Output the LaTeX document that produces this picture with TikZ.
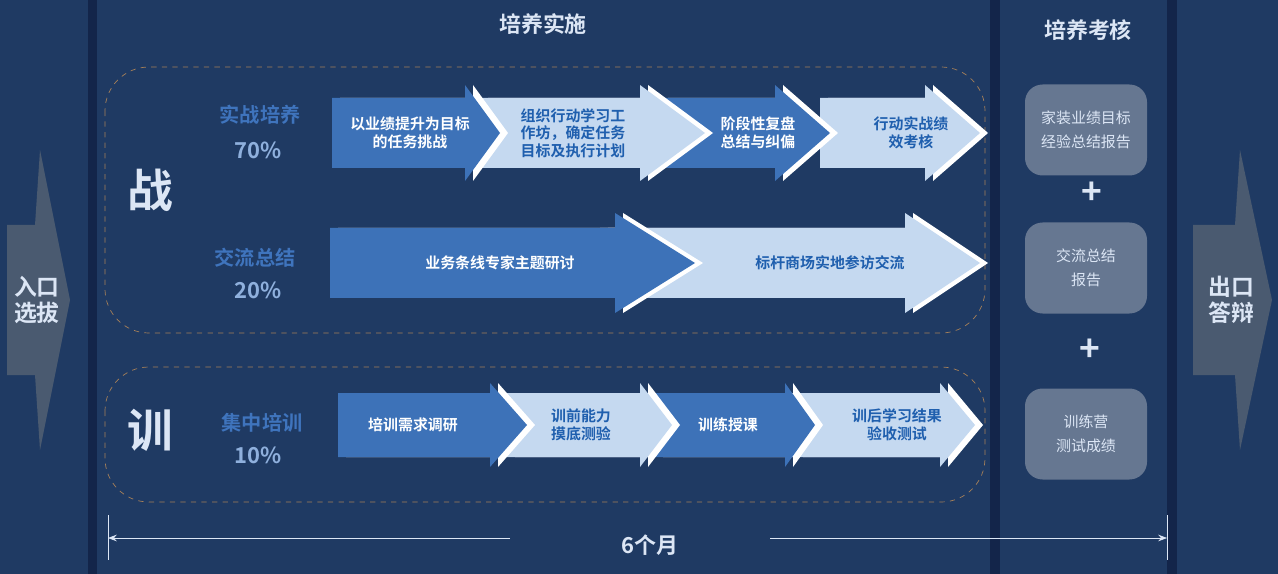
\documentclass[tikz,border=0pt]{standalone}
\usepackage{fontspec}
\setmainfont{Noto Sans CJK SC}[BoldFont={Noto Sans CJK SC Bold}]
\usetikzlibrary{arrows.meta}
\definecolor{bgblue}{HTML}{1F3A63}
\definecolor{stripe}{HTML}{13254A}
\definecolor{darkarr}{HTML}{3D72B8}
\definecolor{lightarr}{HTML}{C5D9F0}
\definecolor{textblue}{HTML}{1F5FAE}
\definecolor{labblue}{HTML}{3F74BD}
\definecolor{pctblue}{HTML}{8FB0DD}
\definecolor{greybox}{HTML}{667791}
\definecolor{gatearr}{HTML}{4A5A70}
\definecolor{pale}{HTML}{DCE6F5}
% #1 start, #2 head base, #3 tip, #4 centre y, #5 half body, #6 half head, #7 colour
\newcommand\flowarrow[7]{%
  \fill[white] ({#1+8},{#4-#5}) -- ({#2+8},{#4-#5}) -- ({#2+8},{#4-#6}) -- ({#3+8},#4)
    -- ({#2+8},{#4+#6}) -- ({#2+8},{#4+#5}) -- ({#1+8},{#4+#5}) -- cycle;
  \fill[#7] (#1,{#4-#5}) -- (#2,{#4-#5}) -- (#2,{#4-#6}) -- (#3,#4)
    -- (#2,{#4+#6}) -- (#2,{#4+#5}) -- (#1,{#4+#5}) -- cycle;
}
\tikzset{
  wtext/.style={text=white,font=\bfseries\fontsize{8.5}{10}\selectfont,align=center},
  btext/.style={text=textblue,font=\bfseries\fontsize{8.5}{10}\selectfont,align=center},
  label/.style={text=labblue,font=\bfseries\fontsize{11.5}{13}\selectfont},
  pct/.style={text=pctblue,font=\bfseries\fontsize{12.5}{14}\selectfont},
  bigchar/.style={text=pale,font=\bfseries\fontsize{26}{28}\selectfont},
  title/.style={text=pale,font=\bfseries\fontsize{12.5}{14}\selectfont},
  checkbox/.style={fill=greybox,rounded corners=10pt,minimum width=122*0.02cm,
    minimum height=91*0.02cm,text=pale,align=center,font=\fontsize{8.5}{14}\selectfont},
  plus/.style={text=pale,font=\bfseries\fontsize{20}{20}\selectfont},
  phasebox/.style={draw=gray!70!orange,dashed,rounded corners=25pt,thin}
}
\begin{document}
\begin{tikzpicture}[x=0.02cm,y=-0.02cm]
\useasboundingbox[fill=bgblue] (0,0) rectangle (1278,574);

% stripes
\fill[stripe] (88,0) rectangle (97,574);
\fill[stripe] (990,0) rectangle (1000,574);
\fill[stripe] (1167,0) rectangle (1177,574);

% entry and exit
\fill[gatearr] (7,225) -- (35,225) -- (40,150) -- (70,300) -- (40,450) -- (35,375) -- (7,375) -- cycle;
\node[title,align=center,font=\bfseries\fontsize{13}{15}\selectfont] (entry) at (37,300) {入口\\选拔};
\fill[gatearr] (1193,225) -- (1235,225) -- (1240,150) -- (1272,300) -- (1240,450) -- (1235,375) -- (1193,375) -- cycle;
\node[title,align=center,font=\bfseries\fontsize{13}{15}\selectfont] (exit) at (1231,300) {出口\\答辩};

\node[title] (implement) at (543,24) {培养实施};
\node[title] (assess) at (1088,30) {培养考核};

% phase boxes
\draw[phasebox] (105,67) rectangle (985,333);
\draw[phasebox] (105,367) rectangle (985,502);
\node[bigchar] (zhan) at (150,190) {战};
\node[bigchar] (xun) at (150,430) {训};

\node[label] (lab1) at (260,115) {实战培养};
\node[pct] (pct1) at (258,150) {70\%};
\node[label] (lab2) at (255,258) {交流总结};
\node[pct] (pct2) at (258,290) {20\%};
\node[label] (lab3) at (262,423) {集中培训};
\node[pct] (pct3) at (258,455) {10\%};

% row 1
\flowarrow{820}{925}{980}{133}{35}{48}{lightarr}
\flowarrow{660}{775}{830}{133}{35}{48}{darkarr}
\flowarrow{480}{640}{705}{133}{35}{48}{lightarr}
\flowarrow{332}{465}{500}{133}{35}{48}{darkarr}
\node[wtext] (a1) at (410,133) {以业绩提升为目标\\的任务挑战};
\node[btext] (a2) at (573,133) {组织行动学习工\\作坊，确定任务\\目标及执行计划};
\node[wtext] (a3) at (758,133) {阶段性复盘\\总结与纠偏};
\node[btext] (a4) at (911,133) {行动实战绩\\效考核};

% row 2
\flowarrow{600}{905}{980}{263}{35}{50}{lightarr}
\flowarrow{330}{615}{695}{263}{35}{50}{darkarr}
\node[wtext] (b1) at (500,263) {业务条线专家主题研讨};
\node[btext] (b2) at (830,263) {标杆商场实地参访交流};

% row 3
\flowarrow{795}{940}{975}{425}{32}{42}{lightarr}
\flowarrow{655}{785}{815}{425}{32}{42}{darkarr}
\flowarrow{507}{640}{672}{425}{32}{42}{lightarr}
\flowarrow{338}{490}{527}{425}{32}{42}{darkarr}
\node[wtext] (c1) at (413,425) {培训需求调研};
\node[btext] (c2) at (581,425) {训前能力\\摸底测验};
\node[wtext] (c3) at (728,425) {训练授课};
\node[btext] (c4) at (897,425) {训后学习结果\\验收测试};

% assessment
\node[checkbox] (k1) at (1086,130) {家装业绩目标\\经验总结报告};
\node[plus] (p1) at (1092,193) {+};
\node[checkbox] (k2) at (1086,268) {交流总结\\报告};
\node[plus] (p2) at (1090,350) {+};
\node[checkbox] (k3) at (1086,434) {训练营\\测试成绩};

% duration
\coordinate (dl) at (108,538);
\coordinate (dr) at (1167,538);
\draw[pale,thin] (108,515) -- (108,560);
\draw[pale,thin] (1167,515) -- (1167,560);
\node[title] (months) at (650,545) {6个月};
\draw[pale,thin,-{Stealth[length=5pt]}] (510,538) -- (dl);
\draw[pale,thin,-{Stealth[length=5pt]}] (770,538) -- (dr);
\end{tikzpicture}
\end{document}
